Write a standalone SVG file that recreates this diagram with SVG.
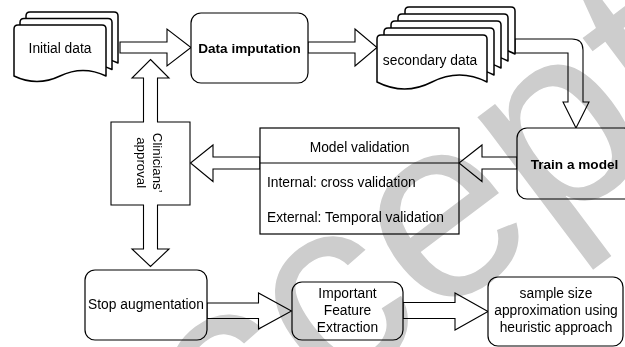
<svg xmlns="http://www.w3.org/2000/svg" width="625" height="347" viewBox="0 0 625 347">
<style>
.pg{fill:#fff;stroke:#000;stroke-width:1.5;stroke-linejoin:round}
.box{fill:#fff;stroke:#000;stroke-width:1.2}
.arr{fill:#fff;stroke:#000;stroke-width:1.1;stroke-linejoin:miter}
.t{font-family:"Liberation Sans",Arial,sans-serif;font-size:13.8px;fill:#000}
.b{font-weight:bold;font-size:13.6px}
.c{text-anchor:middle}
.wm{font-family:"Liberation Sans",Arial,sans-serif;font-size:260px;fill:#cdcdcd;mix-blend-mode:multiply}
</style>
<defs>
<path id="pgI" d="M0,4 Q0,0 4,0 L88,0 Q92,0 92,4 L92,51 Q69,40 46,51 Q23,62 0,51 Z"/>
<path id="pgS" d="M0,4 Q0,0 4,0 L106,0 Q110,0 110,4 L110,47 Q82.5,33 55,47 Q27.5,61 0,47 Z"/>
</defs>
<rect width="625" height="347" fill="#fff"/>
<g id="connectors">
<path class="arr" d="M120,42 L167,42 L167,29 L191,47.5 L167,66 L167,53 L120,53 Z"/>
<path class="arr" d="M308,42 L355,42 L355,29 L377,47.5 L355,66 L355,53 L308,53 Z"/>
<path class="arr" d="M515,39 L572,39 Q583,39 583,50 L583,102 L589,102 L576,128 L563,102 L568,102 L568,53 L515,53 Z"/>
<path class="arr" d="M517,157 L482,157 L482,145 L459,163 L482,181.5 L482,169 L517,169 Z"/>
<path class="arr" d="M260,157 L213,157 L213,145 L190.5,163 L213,181.5 L213,169 L260,169 Z"/>
<path class="arr" d="M207,303 L258.5,303 L258.5,293 L291.5,311 L258.5,329 L258.5,318.5 L207,318.5 Z"/>
<path class="arr" d="M403,302.5 L455,302.5 L455,293 L488,311.5 L455,330 L455,318.5 L403,318.5 Z"/>
</g>
<g id="initial-data">
<use href="#pgI" class="pg" x="26" y="12"/>
<use href="#pgI" class="pg" x="20" y="18.5"/>
<use href="#pgI" class="pg" x="14" y="25"/>
<text class="t c" x="60" y="52.5">Initial data</text>
</g>
<g id="data-imputation">
<rect class="box" x="191" y="13" width="117" height="70" rx="10"/>
<text class="t b c" x="249.5" y="53">Data imputation</text>
</g>
<g id="secondary-data">
<use href="#pgS" class="pg" x="405" y="7"/>
<use href="#pgS" class="pg" x="398" y="14"/>
<use href="#pgS" class="pg" x="391" y="21"/>
<use href="#pgS" class="pg" x="384" y="28"/>
<use href="#pgS" class="pg" x="377" y="35"/>
<text class="t c" x="430" y="65">secondary data</text>
</g>
<g id="train-model">
<rect class="box" x="517" y="128" width="117" height="71" rx="10"/>
<text class="t b c" x="574.5" y="168.5">Train a model</text>
</g>
<g id="model-validation">
<rect class="box" x="260" y="128" width="199" height="106"/>
<line x1="260" y1="163" x2="459" y2="163" stroke="#000" stroke-width="1.2"/>
<text class="t c" x="359.5" y="152">Model validation</text>
<text class="t" x="267" y="187">Internal: cross validation</text>
<text class="t" x="267" y="222">External: Temporal validation</text>
</g>
<g id="clinicians-approval">
<path class="arr" d="M150.5,59.5 L169,78 L157.5,78 L157.5,122 L190,122 L190,205 L157.5,205 L157.5,249 L169,249 L150.5,266.5 L132,249 L143.5,249 L143.5,205 L111,205 L111,122 L143.5,122 L143.5,78 L132,78 Z"/>
<text class="t c" style="font-size:13.3px" transform="translate(152.5,162.7) rotate(90)">Clinicians’</text>
<text class="t c" style="font-size:13.3px" transform="translate(137,162.7) rotate(90)">approval</text>
</g>
<g id="stop-augmentation">
<rect class="box" x="85" y="270" width="122" height="70" rx="10"/>
<text class="t c" x="146" y="309">Stop augmentation</text>
</g>
<g id="feature-extraction">
<rect class="box" x="292" y="282" width="111" height="58" rx="10"/>
<text class="t c" x="347.5" y="298">Important</text>
<text class="t c" x="347.5" y="315">Feature</text>
<text class="t c" x="347.5" y="332">Extraction</text>
</g>
<g id="sample-size">
<rect class="box" x="488" y="277" width="135" height="69" rx="10"/>
<text class="t c" x="556" y="298">sample size</text>
<text class="t c" x="556" y="315">approximation using</text>
<text class="t c" x="556" y="332">heuristic approach</text>
</g>
<g id="watermark">
<text class="wm" x="85" y="585" transform="rotate(-37 85 585)">Accepted</text>
</g>
</svg>
